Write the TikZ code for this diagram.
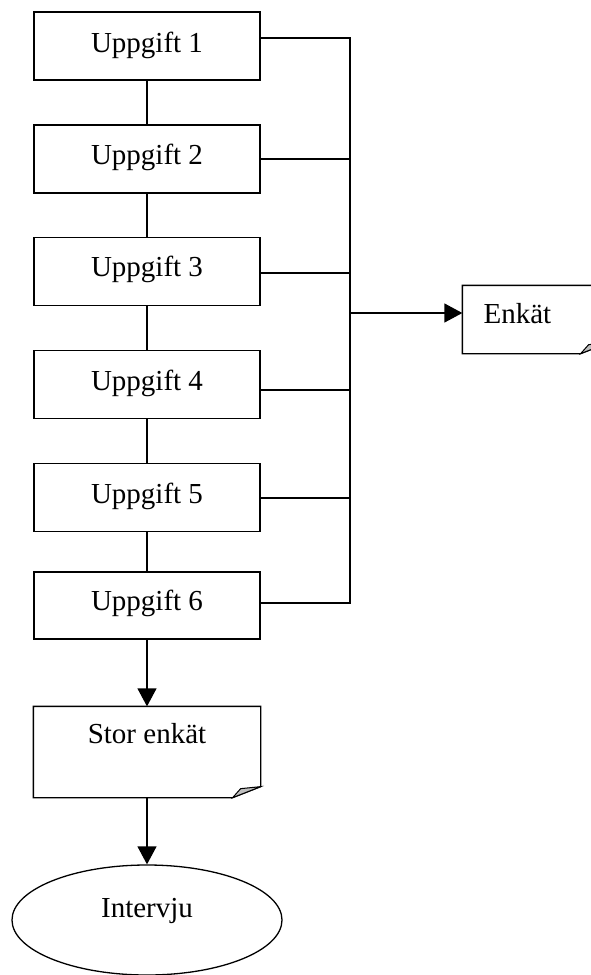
\documentclass[tikz,border=0pt]{standalone}
\usepackage{fontspec}
\setmainfont{Liberation Serif}
\usetikzlibrary{arrows.meta,shapes.geometric}
\begin{document}
\begin{tikzpicture}[x=1pt,y=-1pt,
  line width=1.3pt,
  box/.style={draw,rectangle,minimum width=226pt,minimum height=68pt,inner sep=0pt},
  docbox/.style={rectangle,inner sep=0pt},
  txt/.style={inner sep=0pt,font=\fontsize{29}{34}\selectfont},
  arr/.style={-{Triangle[length=18pt,width=19pt]}},
  fold/.style={fill=black!25,line width=1pt}]
\useasboundingbox (0,0) rectangle (590,975);
% task boxes
\node[box] (u1) at (147,46) {};
\node[box] (u2) at (147,159) {};
\node[box] (u3) at (147,271.5) {};
\node[box] (u4) at (147,384.5) {};
\node[box] (u5) at (147,497.5) {};
\node[box,minimum height=67pt] (u6) at (147,605.5) {};
\node[txt,anchor=base] (t1) at (147,52) {Uppgift 1};
\node[txt,anchor=base] (t2) at (147,164) {Uppgift 2};
\node[txt,anchor=base] (t3) at (147,276) {Uppgift 3};
\node[txt,anchor=base] (t4) at (147,390) {Uppgift 4};
\node[txt,anchor=base] (t5) at (147,503) {Uppgift 5};
\node[txt,anchor=base] (t6) at (147,610) {Uppgift 6};
% Stor enkät (document shape)
\node[docbox,minimum width=226pt,minimum height=90pt] (stor) at (147,752) {};
\draw (stor.north west) -- (stor.north east) -- ([yshift=11pt]stor.south east)
  -- ([xshift=-28pt]stor.south east) -- (stor.south west) -- cycle;
\draw[fold] ([xshift=-28pt]stor.south east) -- ([xshift=-20pt,yshift=9pt]stor.south east)
  -- ([yshift=11pt]stor.south east) -- cycle;
\node[txt,anchor=base] (ts) at (147,743) {Stor enkät};
% Enkät (document shape)
\node[docbox,minimum width=145pt,minimum height=67pt] (enk) at (535.5,319.5) {};
\draw (enk.north west) -- (enk.north east) -- ([yshift=11pt]enk.south east)
  -- ([xshift=-28pt]enk.south east) -- (enk.south west) -- cycle;
\draw[fold] ([xshift=-28pt]enk.south east) -- ([xshift=-20pt,yshift=9pt]enk.south east)
  -- ([yshift=11pt]enk.south east) -- cycle;
\node[txt,anchor=base west] (te) at (483,323) {Enkät};
% Intervju
\node[draw,ellipse,minimum width=270pt,minimum height=110pt,inner sep=0pt] (iv) at (147,920) {};
\node[txt,anchor=base] (ti) at (147,917) {Intervju};
% vertical chain
\draw (u1) -- (u2);
\draw (u2) -- (u3);
\draw (u3) -- (u4);
\draw (u4) -- (u5);
\draw (u5) -- (u6);
\draw[arr] (u6) -- (stor);
\draw[arr] (stor) -- (iv);
% bus to Enkät
\coordinate (b1) at (350,38);
\coordinate (b2) at (350,159);
\coordinate (b3) at (350,273);
\coordinate (b4) at (350,390);
\coordinate (b5) at (350,498);
\coordinate (b6) at (350,603);
\coordinate (bm) at (350,313);
\draw (u1.east |- b1) -- (b1) -- (b6) -- (u6.east |- b6);
\draw (u2.east |- b2) -- (b2);
\draw (u3.east |- b3) -- (b3);
\draw (u4.east |- b4) -- (b4);
\draw (u5.east |- b5) -- (b5);
\draw[arr] (bm) -- (enk.west |- bm);
\end{tikzpicture}
\end{document}
